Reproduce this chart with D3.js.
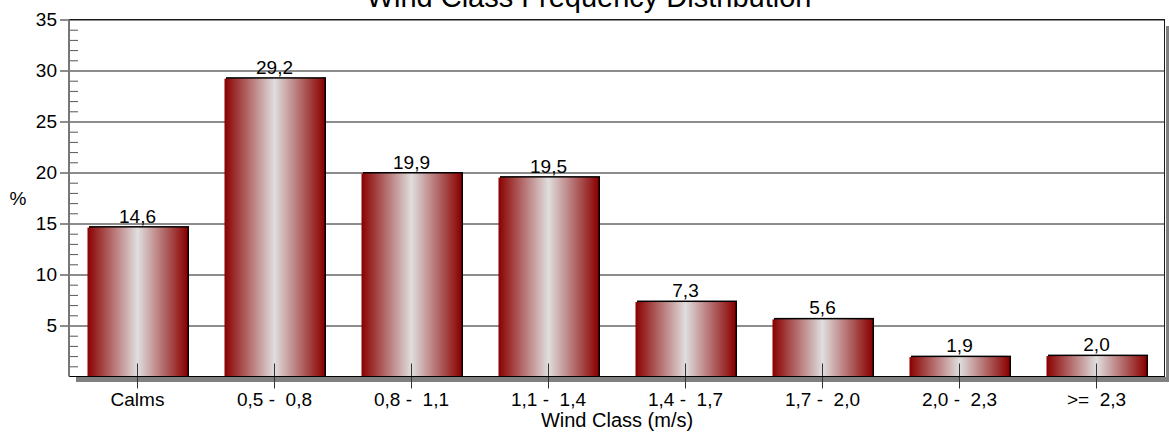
<!DOCTYPE html>
<html><head><meta charset="utf-8">
<script src="https://cdn.jsdelivr.net/npm/d3@7"></script>
<style>
html,body{margin:0;padding:0;background:#fff;}
svg{display:block;font-family:"Liberation Sans",Arial,sans-serif;}
text{white-space:pre;}
</style></head>
<body>
<svg id="chart" width="1169" height="437"></svg>
<script>
const categories = ["Calms", "0,5 -  0,8", "0,8 -  1,1", "1,1 -  1,4", "1,4 -  1,7", "1,7 -  2,0", "2,0 -  2,3", ">=  2,3"];
const values = [14.6, 29.2, 19.9, 19.5, 7.3, 5.6, 1.9, 2.0];
const valueLabels = ["14,6", "29,2", "19,9", "19,5", "7,3", "5,6", "1,9", "2,0"];
const yTicks = [5, 10, 15, 20, 25, 30, 35];
const yMinorTicks = d3.range(1, 35).filter(v => v % 5 !== 0);
const chartTitle = "Wind Class Frequency Distribution";
const xTitle = "Wind Class (m/s)";
const yTitle = "%";

(function () {
const svg = d3.select("#chart");
const pLeft = 69, pRight = 1165, pTop = 19.5, pBottom = 376.5;

const x = d3.scaleBand().domain(categories).range([pLeft, pRight]).paddingInner(0.27).paddingOuter(0.135);
const y = d3.scaleLinear().domain([0, 35]).range([pBottom, pTop]);

const defs = svg.append("defs");
const grad = defs.append("linearGradient").attr("id", "barGrad").attr("x1", "0%").attr("x2", "100%").attr("y1", "0%").attr("y2", "0%");
grad.append("stop").attr("offset", "0%").attr("stop-color", "#8a0000");
grad.append("stop").attr("offset", "50%").attr("stop-color", "#e0dede");
grad.append("stop").attr("offset", "100%").attr("stop-color", "#8a0000");

// shadows
svg.append("rect").attr("x", 76).attr("y", pBottom + 0.5).attr("width", 1169 - 76).attr("height", 5).attr("fill", "#808080");
svg.append("rect").attr("x", pRight + 1).attr("y", 26).attr("width", 4).attr("height", pBottom + 5.5 - 26).attr("fill", "#808080");

// gridlines
svg.append("g").attr("transform", `translate(${pLeft},0)`)
  .call(d3.axisLeft(y).tickValues(yTicks).tickSize(-(pRight - pLeft)).tickFormat(""))
  .call(g => g.select(".domain").remove())
  .call(g => g.selectAll("line").attr("stroke", "#1a1a1a"));

// bars
const bars = svg.append("g");
bars.selectAll("rect.sh").data(values).join("rect").attr("class", "sh")
  .attr("x", (d, i) => x(categories[i]) + 1.5)
  .attr("y", d => y(d) - 1.5)
  .attr("width", x.bandwidth())
  .attr("height", d => pBottom - y(d) + 1.5)
  .attr("fill", "#000");
bars.selectAll("rect.bar").data(values).join("rect").attr("class", "bar")
  .attr("x", (d, i) => x(categories[i]))
  .attr("y", d => y(d))
  .attr("width", x.bandwidth())
  .attr("height", d => pBottom - y(d))
  .attr("fill", "url(#barGrad)");

// x axis ticks (center marks)
svg.append("g").attr("transform", `translate(0,${pBottom - 13})`)
  .call(d3.axisBottom(x).tickSize(25).tickSizeOuter(0).tickFormat(""))
  .call(g => g.select(".domain").remove())
  .call(g => g.selectAll("line").attr("stroke", "#333"));

// x labels
svg.append("g").selectAll("text").data(categories).join("text")
  .attr("x", d => x(d) + x.bandwidth() / 2)
  .attr("y", 405.5)
  .attr("text-anchor", "middle")
  .attr("font-size", 19)
  .attr("fill", "#000")
  .text(d => d);

// bottom axis line
svg.append("line").attr("x1", pLeft).attr("x2", pRight).attr("y1", pBottom).attr("y2", pBottom).attr("stroke", "#000").attr("stroke-width", 1.2);
// top & right border
svg.append("line").attr("x1", pLeft).attr("x2", pRight).attr("y1", pTop).attr("y2", pTop).attr("stroke", "#1a1a1a");
svg.append("line").attr("x1", pRight - 0.5).attr("x2", pRight - 0.5).attr("y1", pTop).attr("y2", pBottom).attr("stroke", "#1a1a1a");

// y minor ticks
svg.append("g").attr("transform", `translate(${pLeft},0)`)
  .call(d3.axisLeft(y).tickValues(yMinorTicks).tickSize(-9).tickFormat(""))
  .call(g => g.select(".domain").remove())
  .call(g => g.selectAll("line").attr("stroke", "#555"));

// y major ticks + labels
svg.append("g").attr("transform", `translate(${pLeft},0)`)
  .call(d3.axisLeft(y).tickValues(yTicks).tickSize(9).tickPadding(3).tickFormat(d3.format("d")))
  .call(g => g.select(".domain").remove())
  .call(g => g.selectAll("line").attr("stroke", "#1a1a1a"))
  .call(g => g.selectAll("text").attr("font-size", 19).attr("font-family", "Liberation Sans, Arial, sans-serif").attr("fill", "#000"));

// left axis line
svg.append("line").attr("x1", pLeft).attr("x2", pLeft).attr("y1", pTop).attr("y2", pBottom).attr("stroke", "#777").attr("stroke-width", 2);

// value labels
svg.append("g").selectAll("text").data(values).join("text")
  .attr("x", (d, i) => x(categories[i]) + x.bandwidth() / 2)
  .attr("y", d => y(d) - 5)
  .attr("text-anchor", "middle")
  .attr("font-size", 19)
  .attr("fill", "#000")
  .text((d, i) => valueLabels[i]);

// titles
svg.append("text").attr("x", 589).attr("y", 7).attr("text-anchor", "middle").attr("font-size", 29).attr("fill", "#000").text(chartTitle);
svg.append("text").attr("x", (pLeft + pRight) / 2).attr("y", 427).attr("text-anchor", "middle").attr("font-size", 20).attr("fill", "#000").text(xTitle);
svg.append("text").attr("x", 18).attr("y", 205).attr("text-anchor", "middle").attr("font-size", 19).attr("fill", "#000").text(yTitle);
})();
</script>
</body></html>
